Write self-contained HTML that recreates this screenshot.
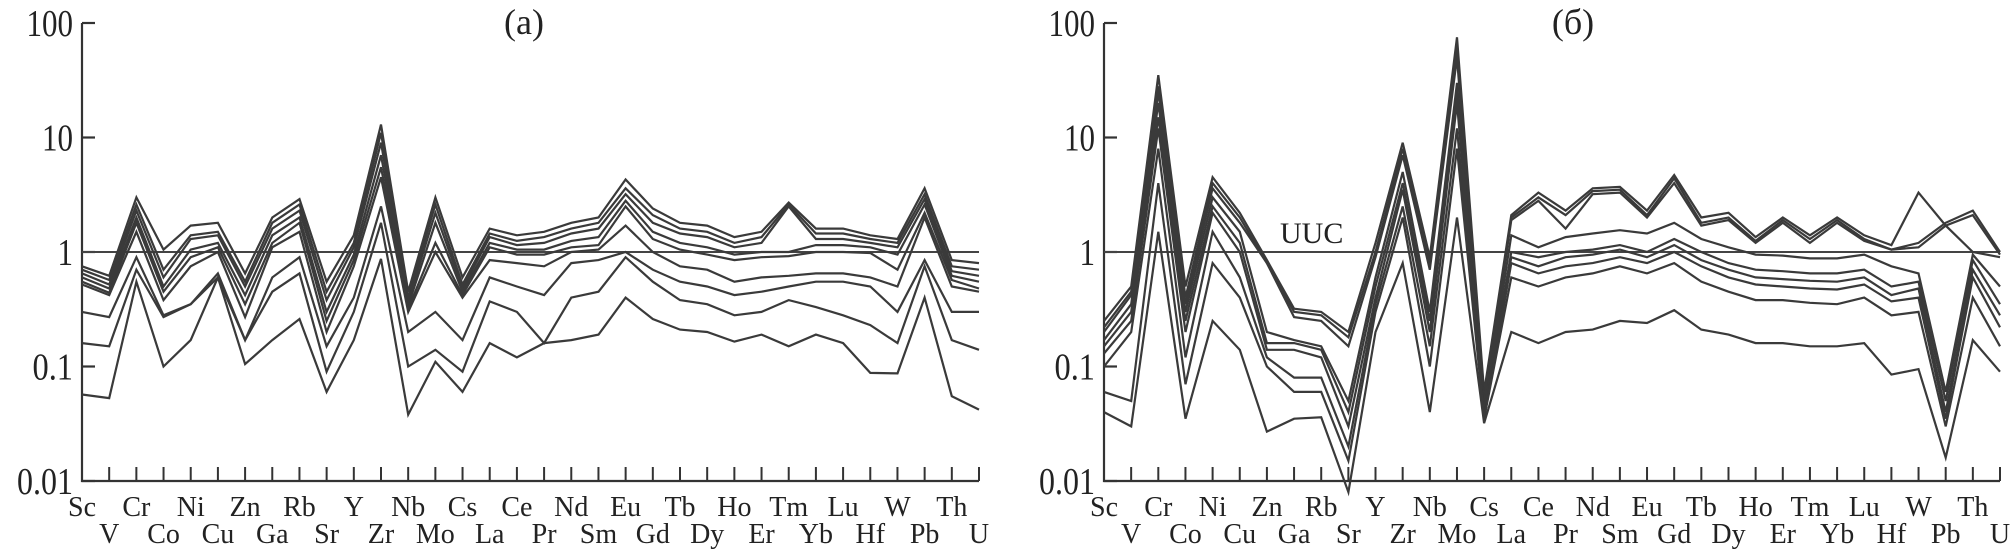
<!DOCTYPE html>
<html><head><meta charset="utf-8">
<style>
html,body{margin:0;padding:0;background:#fff;}
svg{display:block;}
text{font-family:"Liberation Serif",serif;fill:#222;}
</style></head>
<body>
<svg id="chart" width="2014" height="553" viewBox="0 0 2014 553" xmlns="http://www.w3.org/2000/svg"></svg>
<script>
const elements = ["Sc","V","Cr","Co","Ni","Cu","Zn","Ga","Rb","Sr","Y","Zr","Nb","Mo","Cs","La","Ce","Pr","Nd","Sm","Eu","Gd","Tb","Dy","Ho","Er","Tm","Yb","Lu","Hf","W","Pb","Th","U"];
const yTickValues = [100,10,1,0.1,0.01];
const yTickLabels = ["100","10","1","0.1","0.01"];

const seriesA1 = [.75,.62,3,1.05,1.7,1.8,.65,2,2.9,.55,1.4,13,.45,3,.6,1.6,1.4,1.5,1.8,2,4.3,2.4,1.8,1.7,1.35,1.5,2.7,1.6,1.6,1.4,1.3,3.6,.85,.8];
const seriesA2 = [.7,.57,2.6,.7,1.4,1.5,.55,1.8,2.6,.45,1.2,11,.4,2.6,.52,1.45,1.25,1.35,1.6,1.8,3.6,2.1,1.6,1.5,1.2,1.35,2.6,1.45,1.45,1.3,1.2,3.2,.75,.7];
const seriesA3 = [.65,.52,2.3,.6,1.3,1.4,.5,1.6,2.3,.38,1.1,9,.37,2.2,.48,1.35,1.15,1.2,1.45,1.6,3.2,1.8,1.45,1.35,1.1,1.2,2.5,1.3,1.3,1.2,1.1,2.9,.68,.62];
const seriesA4 = [.6,.48,2.0,.5,1.05,1.2,.42,1.4,2.0,.3,.95,7,.34,1.8,.45,1.2,1.05,1.05,1.25,1.35,2.8,1.5,1.2,1.1,.95,1.0,1.0,1.15,1.15,1.1,.95,2.6,.62,.55];
const seriesA5 = [.55,.44,1.8,.45,.9,1.1,.35,1.2,1.8,.25,.85,5.5,.32,1.2,.42,1.1,.95,.95,1.1,1.15,2.5,1.3,1.05,.95,.85,.9,.92,1.0,1.0,.98,.7,2.2,.57,.48];
const seriesA6 = [.52,.42,1.5,.38,.75,1.0,.27,1.1,1.5,.2,.75,4.5,.3,1.0,.4,.85,.8,.75,1.0,1.05,1.7,1.0,.75,.7,.55,.6,.62,.65,.65,.6,.5,2.0,.5,.45];
const seriesA7 = [.3,.27,.9,.28,.35,.65,.17,.6,.9,.15,.4,2.5,.2,.3,.17,.6,.5,.42,.8,.85,1.0,.7,.55,.5,.42,.45,.5,.55,.55,.5,.3,.85,.3,.3];
const seriesA8 = [.16,.15,.7,.27,.35,.6,.17,.45,.65,.09,.3,1.8,.1,.14,.09,.37,.3,.16,.4,.45,.9,.55,.38,.35,.28,.3,.38,.33,.28,.23,.16,.75,.17,.14];
const seriesA9 = [.057,.053,.55,.1,.17,.6,.105,.17,.26,.06,.17,.87,.038,.11,.06,.16,.12,.16,.17,.19,.4,.26,.21,.2,.165,.19,.15,.19,.16,.088,.087,.4,.055,.042];

const seriesB1 = [.25,.5,35,.5,4.5,2.2,.85,.32,.3,.2,1.2,9,.9,75,.06,2.1,3.3,2.3,3.6,3.7,2.3,4.7,2.0,2.2,1.35,2.0,1.4,2.0,1.4,1.15,3.3,1.7,1.0,.9];
const seriesB2 = [.22,.45,28,.4,4,2,.8,.3,.28,.18,1.0,8,.8,60,.05,2.0,3.0,2.1,3.4,3.5,2.1,4.4,1.8,2.0,1.25,1.9,1.3,1.9,1.3,1.05,1.2,1.8,2.3,1.0];
const seriesB3 = [.2,.42,25,.35,3.6,1.8,.8,.27,.25,.15,.9,7,.7,50,.045,1.9,2.8,1.6,3.2,3.3,2.0,4.0,1.7,1.9,1.2,1.8,1.2,1.8,1.25,1.05,1.1,1.7,2.1,.95];
const seriesB4 = [.17,.35,20,.3,3,1.5,.2,.17,.15,.05,.6,5,.3,30,.04,1.4,1.1,1.35,1.45,1.55,1.45,1.8,1.3,1.1,.95,.93,.88,.88,.95,.75,.65,.06,.95,.5];
const seriesB5 = [.15,.3,15,.25,2.5,1.2,.16,.16,.14,.04,.5,4,.25,25,.04,1.0,.9,1.0,1.05,1.15,1.0,1.3,1.0,.8,.7,.68,.65,.65,.7,.5,.55,.05,.85,.35];
const seriesB6 = [.13,.25,12,.2,2.2,1,.14,.14,.12,.03,.4,3.5,.2,20,.035,.9,.75,.9,.95,1.05,.9,1.15,.85,.7,.6,.58,.56,.55,.6,.42,.48,.04,.7,.28];
const seriesB7 = [.1,.2,8,.12,1.5,.6,.12,.08,.08,.02,.35,2.5,.15,12,.035,.8,.65,.75,.8,.9,.8,1.0,.75,.6,.52,.5,.48,.47,.52,.37,.4,.035,.6,.22];
const seriesB8 = [.06,.05,4,.07,.8,.4,.1,.06,.06,.015,.3,2,.1,8,.035,.6,.5,.6,.65,.75,.65,.8,.55,.45,.38,.38,.36,.35,.4,.28,.3,.03,.4,.15];
const seriesB9 = [.04,.03,1.5,.035,.25,.14,.027,.035,.036,.008,.2,.8,.04,2,.032,.2,.16,.2,.21,.25,.24,.31,.21,.19,.16,.16,.15,.15,.16,.085,.095,.016,.17,.09];

const seriesA = [seriesA1,seriesA2,seriesA3,seriesA4,seriesA5,seriesA6,seriesA7,seriesA8,seriesA9];
const seriesB = [seriesB1,seriesB2,seriesB3,seriesB4,seriesB5,seriesB6,seriesB7,seriesB8,seriesB9];

const NS = "http://www.w3.org/2000/svg";
const svg = document.getElementById('chart');
function mk(tag, attrs, parent){
  const e = document.createElementNS(NS, tag);
  for (const k in attrs) e.setAttribute(k, attrs[k]);
  (parent||svg).appendChild(e);
  return e;
}
const yTop = 23, yBottom = 481;
function yScale(v){ return yBottom - (Math.log10(v) + 2) / 4 * (yBottom - yTop); }

function panel(id, x0, x1, title, titleX, data, uuc){
  const g = mk('g', {});
  
  
  const step = (x1 - x0) / (elements.length - 1);
  const xScale = i => x0 + i * step;
  const ax = mk('path', {d:`M${x0},${yTop} V${yBottom} H${x1}`, fill:'none', stroke:'#333', 'stroke-width':2.2}, g);
  
  
  yTickValues.forEach((v,i)=>{
    const y = yScale(v);
    const t = mk('line', {x1:x0, x2:x0+13, y1:y, y2:y, stroke:'#333','stroke-width':2.2}, g);
    
    
    const l = mk('text', {x:x0-9, y:y+13, 'text-anchor':'end', 'font-size':38, textLength: yTickLabels[i].length*15.5+(yTickLabels[i].includes('.')?-6:0), lengthAdjust:'spacingAndGlyphs'}, g);
    l.textContent = yTickLabels[i];
    
    
  });
  elements.forEach((el,i)=>{
    const x = xScale(i);
    if (i>0){
      const t = mk('line', {x1:x, x2:x, y1:yBottom, y2:yBottom-14, stroke:'#333','stroke-width':2}, g);
      
      
    }
    const l = mk('text', {x:x, y: i%2===0 ? 516 : 543, 'text-anchor':'middle', 'font-size':28}, g);
    l.textContent = el;
    
    
  });
  const ref = mk('line', {x1:x0, x2:x1, y1:yScale(1), y2:yScale(1), stroke:'#444','stroke-width':2}, g);
  
  
  if (uuc){
    const u = mk('text', {x:x0+176, y:yScale(1)-9, 'font-size':30}, g);
    u.textContent = 'UUC';
    
    
  }
  const tt = mk('text', {x:titleX, y:34, 'text-anchor':'middle', 'font-size':36}, g);
  tt.textContent = title;
  
  
  data.forEach((s,k)=>{
    const d = s.map((v,i)=>(i?'L':'M')+xScale(i).toFixed(1)+','+yScale(v).toFixed(1)).join(' ');
    const p = mk('path', {d:d, fill:'none', stroke:'#3a3a3a','stroke-width':2.2,'stroke-linejoin':'miter'}, g);
    
    
  });
}
panel('panel-a', 82, 979, '(a)', 524, seriesA, false);
panel('panel-b', 1104, 2000, '(б)', 1573, seriesB, true);
</script>
</body></html>
